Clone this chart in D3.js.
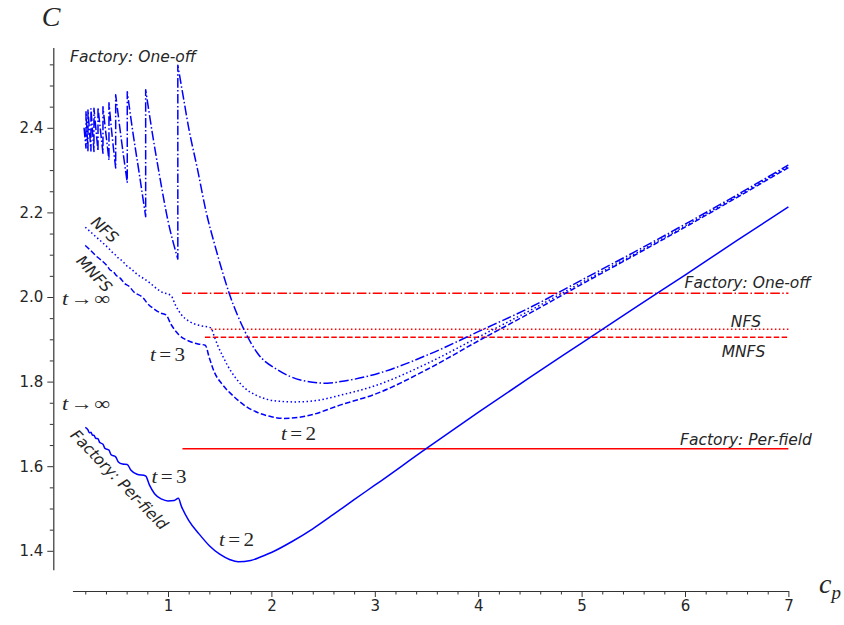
<!DOCTYPE html>
<html>
<head>
<meta charset="utf-8">
<script src="https://cdn.jsdelivr.net/npm/d3@7/dist/d3.min.js"></script>
<style>
  html, body { margin: 0; padding: 0; background: #fff; }
  svg { display: block; }
</style>
</head>
<body>
<svg id="chart" width="844" height="625"></svg>
<script>
// ---------------- data ----------------
// Factory: Per-field (solid blue)
const perField = [
  [0.20,1.692],[0.226,1.686],[0.24,1.679],[0.255,1.680],[0.27,1.673],[0.284,1.673],
  [0.30,1.666],[0.323,1.665],[0.34,1.656],[0.371,1.652],[0.39,1.642],[0.429,1.638],
  [0.45,1.627],[0.494,1.622],[0.52,1.610],[0.56,1.605],[0.606,1.604],[0.64,1.591],
  [0.70,1.581],[0.784,1.577],[0.82,1.556],[0.87,1.535],[0.94,1.522],[1.00,1.518],
  [1.06,1.519],[1.10,1.524],[1.13,1.505],[1.20,1.472],[1.30,1.440],[1.40,1.412],
  [1.50,1.392],[1.60,1.379],[1.68,1.374],[1.80,1.377],[1.90,1.386],[2.00,1.396],
  [2.20,1.422],[2.40,1.452],[2.60,1.486],[2.80,1.521],[3.00,1.555],[3.50,1.642],
  [4.00,1.727],[4.50,1.810],[5.00,1.891],[5.50,1.972],[6.00,2.052],[6.50,2.133],[7.00,2.213]
];
// NFS (dotted blue)
const nfs = [
  [0.20,2.165],[0.26,2.152],[0.30,2.143],[0.36,2.130],[0.43,2.114],[0.46,2.106],[0.49,2.100],
  [0.52,2.092],[0.56,2.085],[0.60,2.074],[0.645,2.066],[0.70,2.054],[0.80,2.038],[0.85,2.028],
  [0.93,2.013],[1.03,2.003],[1.07,1.982],[1.13,1.958],[1.20,1.943],[1.30,1.933],[1.415,1.927],
  [1.45,1.905],[1.48,1.886],[1.53,1.860],[1.576,1.838],[1.65,1.810],[1.737,1.786],[1.85,1.768],
  [1.96,1.758],[2.10,1.753],[2.22,1.752],[2.35,1.753],[2.476,1.757],[2.67,1.768],[3.00,1.790],
  [3.50,1.842],[4.00,1.905],[4.50,1.968],[5.00,2.034],[5.50,2.100],[6.00,2.168],[6.50,2.238],[7.00,2.309]
];
// MNFS (dashed blue)
const mnfs = [
  [0.20,2.122],[0.26,2.108],[0.30,2.098],[0.36,2.086],[0.41,2.074],[0.44,2.064],[0.47,2.060],
  [0.50,2.051],[0.54,2.044],[0.58,2.032],[0.62,2.026],[0.67,2.012],[0.76,1.998],[0.80,1.985],
  [0.87,1.971],[0.93,1.962],[0.98,1.958],[1.03,1.935],[1.10,1.912],[1.20,1.896],[1.29,1.889],
  [1.36,1.886],[1.40,1.856],[1.447,1.823],[1.52,1.795],[1.64,1.764],[1.75,1.742],[1.866,1.727],
  [2.00,1.717],[2.12,1.713],[2.25,1.715],[2.38,1.721],[2.67,1.745],[3.00,1.770],[3.50,1.828],
  [4.00,1.896],[4.50,1.962],[5.00,2.030],[5.50,2.097],[6.00,2.165],[6.50,2.235],[7.00,2.306]
];
// Factory: One-off (dash-dot blue) - repeated c marks a vertical jump
const oneOff = [
  [0.188,2.400],[0.207,2.352],[0.207,2.438],[0.226,2.346],[0.226,2.442],[0.255,2.345],
  [0.255,2.445],[0.284,2.344],[0.284,2.446],[0.323,2.345],[0.323,2.448],[0.371,2.340],
  [0.371,2.450],[0.40,2.385],[0.429,2.324],[0.429,2.459],[0.46,2.380],[0.494,2.305],
  [0.494,2.478],[0.55,2.370],[0.606,2.270],[0.606,2.485],[0.66,2.390],[0.72,2.295],[0.784,2.190],
  [0.784,2.490],[0.85,2.385],[0.916,2.290],[1.00,2.180],[1.095,2.090],
  [1.095,2.548],[1.15,2.470],[1.20,2.400],[1.287,2.300],[1.37,2.200],[1.45,2.125],[1.52,2.065],
  [1.59,2.010],[1.737,1.922],[1.866,1.867],[2.06,1.828],[2.28,1.804],[2.54,1.796],[2.67,1.800],
  [3.00,1.817],[3.50,1.862],[4.00,1.918],[4.50,1.975],[5.00,2.040],[5.50,2.105],[6.00,2.172],
  [6.50,2.241],[7.00,2.312]
];
// red horizontal reference levels: [start c, end c, C]
const levelOneOff   = [1.135, 7.0, 2.009];
const levelNFS      = [1.415, 7.0, 1.924];
const levelMNFS     = [1.357, 7.0, 1.905];
const levelPerField = [1.14,  7.0, 1.641];

const xMajorTicks = [1, 2, 3, 4, 5, 6, 7];
const yMajorTicks = [1.4, 1.6, 1.8, 2.0, 2.2, 2.4];
const xMinorTicks = [0.2,0.4,0.6,0.8,1.2,1.4,1.6,1.8,2.2,2.4,2.6,2.8,3.2,3.4,3.6,3.8,4.2,4.4,4.6,4.8,
                     5.2,5.4,5.6,5.8,6.2,6.4,6.6,6.8];
const yMinorTicks = [1.45,1.5,1.55,1.65,1.7,1.75,1.85,1.9,1.95,2.05,2.1,2.15,2.25,2.3,2.35,2.45,2.5,2.55];

// ---------------- drawing ----------------
const svg = d3.select('#chart');
const x = d3.scaleLinear().domain([0, 7]).range([64.6, 788.4]);
const y = d3.scaleLinear().domain([1.4, 2.4]).range([550.8, 127.8]);

const axisColor = '#333';
const textColor = '#262626';
const tickFont = '"DejaVu Sans", sans-serif';

// axes (Sage style: detached spines)
const xAxisScale = x.copy().domain([0.076, 7.0]).range([x(0.076), x(7.0)]);
const yAxisScale = y.copy().domain([1.355, 2.59]).range([y(1.355), y(2.59)]);
const xAxisY = 591, yAxisX = 53.3;

const gx = svg.append('g').attr('transform', `translate(0,${xAxisY})`)
  .call(d3.axisBottom(xAxisScale).tickValues(xMajorTicks).tickSizeInner(6).tickSizeOuter(0).tickPadding(3).tickFormat(d3.format('d')));
const gxm = svg.append('g').attr('transform', `translate(0,${xAxisY})`)
  .call(d3.axisBottom(xAxisScale).tickValues(xMinorTicks).tickSizeInner(3.5).tickSizeOuter(0).tickFormat(''));
const gy = svg.append('g').attr('transform', `translate(${yAxisX},0)`)
  .call(d3.axisLeft(yAxisScale).tickValues(yMajorTicks).tickSizeInner(6).tickSizeOuter(0).tickPadding(4).tickFormat(d3.format('.1f')));
const gym = svg.append('g').attr('transform', `translate(${yAxisX},0)`)
  .call(d3.axisLeft(yAxisScale).tickValues(yMinorTicks).tickSizeInner(3.5).tickSizeOuter(0).tickFormat(''));
[gx, gxm, gy, gym].forEach(g => {
  g.selectAll('path.domain').attr('stroke', axisColor).attr('stroke-width', 1.2);
  g.selectAll('.tick line').attr('stroke', axisColor).attr('stroke-width', 1);
  g.selectAll('.tick text').attr('fill', textColor).style('font-family', tickFont).style('font-size', '15px');
});
gxm.select('path.domain').remove();
gym.select('path.domain').remove();

// axis labels
svg.append('text').attr('x', 51).attr('y', 26).attr('text-anchor', 'middle')
  .style('font-family', '"Liberation Serif", serif').style('font-style', 'italic').style('font-size', '28px')
  .attr('fill', textColor).text('C');
const cp = svg.append('text').attr('x', 819).attr('y', 593)
  .style('font-family', '"Liberation Serif", serif').style('font-size', '28px').attr('fill', textColor);
cp.append('tspan').style('font-style', 'italic').text('c');
cp.append('tspan').attr('dy', 6).style('font-style', 'italic').style('font-size', '19px').text('p');

// line generator
const line = d3.line().x(d => x(d[0])).y(d => y(d[1])).curve(d3.curveMonotoneX);
const blue = '#0000ff', red = '#ff0000';
const lw = 1.5;

// red horizontal levels
function level(lv, dash) {
  svg.append('path').datum([[lv[0], lv[2]], [lv[1], lv[2]]])
    .attr('d', d3.line().x(d => x(d[0])).y(d => y(d[1])))
    .attr('fill', 'none').attr('stroke', red).attr('stroke-width', lw)
    .attr('stroke-dasharray', dash);
}
level(levelOneOff, '9.6,2.4,1.5,2.4');
level(levelNFS, '1.5,2.5');
level(levelMNFS, '5.5,2.4');
level(levelPerField, null);

// blue curves
function curve(data, dash) {
  svg.append('path').datum(data).attr('d', line)
    .attr('fill', 'none').attr('stroke', blue).attr('stroke-width', lw)
    .attr('stroke-dasharray', dash).attr('stroke-linejoin', 'round');
}
curve(perField, null);
curve(nfs, '1.5,2.5');
curve(mnfs, '5.5,2.4');

// one-off: split at vertical jumps, smooth each piece, join into one path
const pieces = [];
let cur = [oneOff[0]];
for (let i = 1; i < oneOff.length; i++) {
  if (oneOff[i][0] === oneOff[i - 1][0]) { pieces.push(cur); cur = [oneOff[i]]; }
  else cur.push(oneOff[i]);
}
pieces.push(cur);
const dOne = pieces.map((p, i) => {
  const s = p.length > 1 ? line(p) : `M${x(p[0][0])},${y(p[0][1])}`;
  return i === 0 ? s : 'L' + s.slice(1);
}).join('');
svg.append('path').attr('d', dOne).attr('fill', 'none').attr('stroke', blue)
  .attr('stroke-width', lw).attr('stroke-dasharray', '9.6,2.4,1.5,2.4').attr('stroke-linejoin', 'round');

// annotations
const sansIt = (sel) => sel.style('font-family', '"DejaVu Sans", sans-serif').style('font-style', 'italic')
  .style('font-size', '15.5px').attr('fill', textColor).attr('text-anchor', 'middle').attr('dominant-baseline', 'central');
function note(t, cx, cy, rot) {
  const el = svg.append('text').attr('transform', `translate(${cx},${cy}) rotate(${rot || 0})`).text(t);
  sansIt(el);
}
note('Factory: One-off', 133, 57, 0);
note('NFS', 104.5, 230, 42);
note('MNFS', 94, 274, 47);
note('Factory: Per-field', 119, 480, 46);
note('Factory: One-off', 747.5, 283, 0);
note('NFS', 746, 322, 0);
note('MNFS', 743.5, 352, 0);
note('Factory: Per-field', 746, 440, 0);

function mathLabel(parts, cx, cy, len) {
  const t = svg.append('text').attr('x', cx).attr('y', cy).attr('text-anchor', 'middle')
    .attr('dominant-baseline', 'central')
    .style('font-family', '"Liberation Serif", serif').style('font-size', '19px').attr('fill', textColor);
  parts.forEach(p => t.append('tspan').attr('dx', p[2] || 0)
    .style('font-style', p[1] ? 'italic' : 'normal').text(p[0]));
  if (len) t.attr('textLength', len).attr('lengthAdjust', 'spacingAndGlyphs');
}
mathLabel([['t', true], ['\u2192', false, 2], ['\u221E', false, 1]], 86, 298, 48);
mathLabel([['t', true], ['\u2192', false, 2], ['\u221E', false, 1]], 86, 403, 48);
mathLabel([['t', true], ['=', false, 3], ['3', false, 3]], 167.5, 354, 35);
mathLabel([['t', true], ['=', false, 3], ['3', false, 3]], 169, 476, 35);
mathLabel([['t', true], ['=', false, 3], ['2', false, 3]], 298.5, 433, 35);
mathLabel([['t', true], ['=', false, 3], ['2', false, 3]], 236.5, 539, 35);
</script>
</body>
</html>
